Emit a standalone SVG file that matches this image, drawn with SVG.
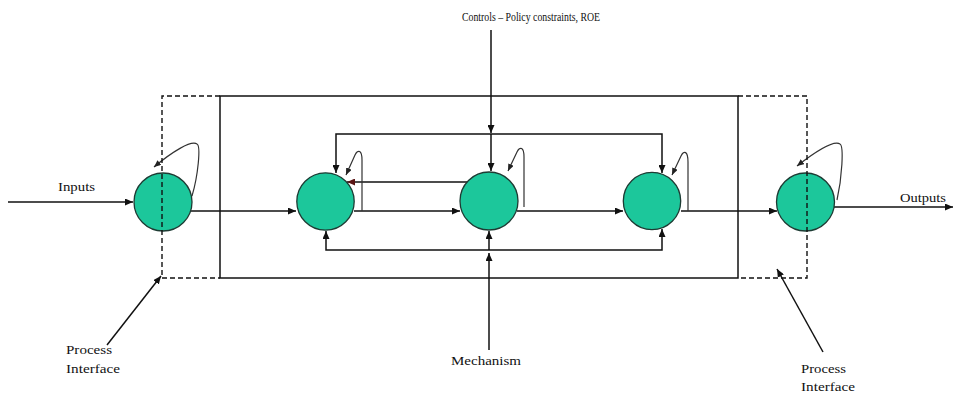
<svg xmlns="http://www.w3.org/2000/svg" width="955" height="398" viewBox="0 0 955 398">
  <defs>
    <marker id="arr" markerUnits="userSpaceOnUse" markerWidth="9" markerHeight="7" refX="8" refY="3.5" orient="auto">
      <path d="M0,0 L8,3.5 L0,7 z" fill="#111"/>
    </marker>
    <marker id="arrRed" markerUnits="userSpaceOnUse" markerWidth="9" markerHeight="7" refX="8" refY="3.5" orient="auto">
      <path d="M0,0 L8,3.5 L0,7 z" fill="#5a1414"/>
    </marker>
    <marker id="arrSm" markerUnits="userSpaceOnUse" markerWidth="8" markerHeight="6" refX="7" refY="3" orient="auto">
      <path d="M0,0 L7,3 L0,6 z" fill="#222"/>
    </marker>
  </defs>
  <style>
    .frame { fill: none; stroke: #111; stroke-width: 1.5; }
    .dash { fill: none; stroke: #111; stroke-width: 1.4; stroke-dasharray: 5 3; }
    .wire { fill: none; stroke: #111; stroke-width: 1.5; marker-end: url(#arr); }
    .plain { fill: none; stroke: #111; stroke-width: 1.5; }
    .loop { fill: none; stroke: #333; stroke-width: 1.2; marker-end: url(#arrSm); }
    .node { fill: #1cc79b; stroke: #1d3b33; stroke-width: 1.3; }
    .lbl { font-family: "Liberation Serif", "Times New Roman", serif; font-size: 13px; fill: #111; }
  </style>

  <rect width="955" height="398" fill="#fff"/>

  <!-- process boundary -->
  <g id="frame">
    <rect class="frame" x="220" y="96" width="518" height="182"/>
  </g>

  <g id="connectors">
    <!-- external input / output -->
    <line class="wire" x1="8" y1="202" x2="133" y2="202"/>
    <line class="wire" x1="834" y1="207" x2="953" y2="207"/>
    <!-- forward chain -->
    <line class="wire" x1="191" y1="211" x2="296" y2="211"/>
    <line class="wire" x1="354" y1="211" x2="460" y2="211"/>
    <line class="wire" x1="517" y1="211" x2="623" y2="211"/>
    <line class="wire" x1="681" y1="211" x2="777" y2="211"/>
    <!-- controls from above -->
    <line class="wire" x1="491" y1="30" x2="491" y2="133"/>
    <line class="wire" x1="491" y1="134" x2="491" y2="171"/>
    <polyline class="wire" points="491,134 336,134 336,173"/>
    <polyline class="wire" points="491,134 662,134 662,173"/>
    <!-- feedback from centre to first stage -->
    <line class="plain" x1="467" y1="182" x2="347" y2="182" style="marker-end:url(#arrRed)"/>
    <!-- mechanism from below -->
    <line class="wire" x1="489" y1="350" x2="489" y2="253"/>
    <line class="wire" x1="489" y1="250" x2="489" y2="231"/>
    <polyline class="wire" points="489,250 326,250 326,231"/>
    <polyline class="wire" points="489,250 662,250 662,229"/>
    <!-- self loops -->
    <path class="loop" d="M192,196 C198,176 201,146 197,144 C191,140 172,152 154,167"/>
    <path class="loop" d="M362,211 L362,160 C362,150 358,149 355,155 L346,175"/>
    <path class="loop" d="M524,207 L524,157 C524,147 520,146 517,152 L508,171"/>
    <path class="loop" d="M688,211 L688,162 C688,151 684,150 681,156 L672,175"/>
    <path class="loop" d="M837,200 C842,178 844,146 840,144 C834,140 815,152 797,166"/>
    <!-- process interface pointers -->
    <line class="wire" x1="107" y1="345" x2="161" y2="276"/>
    <line class="wire" x1="823" y1="352" x2="777" y2="269"/>
  </g>

  <g id="n1"><circle class="node" cx="163" cy="202" r="29"/></g>
  <g id="n2"><circle class="node" cx="325.5" cy="201.5" r="28.7"/></g>
  <g id="n3"><circle class="node" cx="489" cy="201" r="29"/></g>
  <g id="n4"><circle class="node" cx="652" cy="201" r="28.7"/></g>
  <g id="n5"><circle class="node" cx="805.5" cy="202" r="29"/></g>

  <!-- dashed interface zones, drawn over the edge nodes -->
  <g id="interfaces">
    <path class="dash" d="M220,96 H162 V278 H220"/>
    <path class="dash" d="M738,96 H807 V278 H738"/>
  </g>

  <g id="labels">
    <text class="lbl" x="462" y="21" textLength="138" lengthAdjust="spacingAndGlyphs">Controls – Policy constraints, ROE</text>
    <text class="lbl" x="58" y="191" textLength="37" lengthAdjust="spacingAndGlyphs">Inputs</text>
    <text class="lbl" x="900" y="202" textLength="46" lengthAdjust="spacingAndGlyphs">Outputs</text>
    <text class="lbl" x="451" y="365" textLength="70" lengthAdjust="spacingAndGlyphs">Mechanism</text>
    <text class="lbl" x="66" y="354" textLength="46" lengthAdjust="spacingAndGlyphs">Process</text>
    <text class="lbl" x="66" y="373" textLength="54" lengthAdjust="spacingAndGlyphs">Interface</text>
    <text class="lbl" x="801" y="373" textLength="45" lengthAdjust="spacingAndGlyphs">Process</text>
    <text class="lbl" x="801" y="391" textLength="54" lengthAdjust="spacingAndGlyphs">Interface</text>
  </g>
</svg>
